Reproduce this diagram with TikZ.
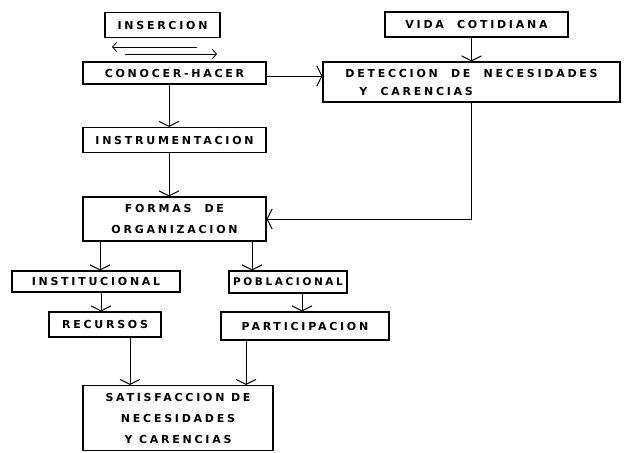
\documentclass[tikz,border=0pt]{standalone}
\usepackage{fontspec}
\usepackage{tikz}
\usetikzlibrary{arrows.meta,positioning,calc}
\newfontfamily\cajafont{DejaVu Sans}[LetterSpace=25]

\begin{document}
\begin{tikzpicture}[x=1pt,y=-1pt,
  caja/.style={draw,line width=1.1pt,inner sep=0pt,align=center,font=\cajafont\bfseries\fontsize{11}{21}\selectfont},
  flecha/.style={line width=0.8pt,-{Straight Barb[length=5pt,width=20pt,line width=1pt]}},
  flechita/.style={line width=0.8pt,-{Straight Barb[length=4pt,width=9pt]}}]
\useasboundingbox (0,0) rectangle (631,452);

% Top row
\node[caja,minimum width=115,minimum height=25] (insercion) at (162.5,25) {INSERCION};
\node[caja,minimum width=183,minimum height=22] (conocer) at (174.5,73) {CONOCER-HACER};
\node[caja,minimum width=183,minimum height=25] (vida) at (476.5,24.5) {VIDA\ \ COTIDIANA};
\node[caja,minimum width=297,minimum height=40,align=left,font=\cajafont\bfseries\fontsize{11}{18}\selectfont] (deteccion) at (471.5,82)
  {DETECCION\ \ DE\ \ NECESIDADES\\\hspace*{14pt}Y\ \ CARENCIAS};

% Middle column
\node[caja,minimum width=183,minimum height=25] (instr) at (174.5,140) {INSTRUMENTACION};
\node[caja,minimum width=183,minimum height=44] (formas) at (174.5,219) {FORMAS\ \ DE\\ORGANIZACION};

% Two branches
\node[caja,minimum width=168,minimum height=21] (instit) at (96,281.5) {INSTITUCIONAL};
\node[caja,minimum width=118,minimum height=22,font=\cajafont\bfseries\fontsize{10.5}{19}\selectfont] (pobl) at (288,282) {POBLACIONAL};
\node[caja,minimum width=112,minimum height=25] (recursos) at (105,324.5) {RECURSOS};
\node[caja,minimum width=168,minimum height=28] (partic) at (305,326) {PARTICIPACION};
\node[caja,minimum width=190,minimum height=65] (satis) at (178,418)
  {SATISFACCION DE\\NECESIDADES\\Y CARENCIAS};

% Back and forth between insercion and conocer
\coordinate (ida1) at (197,47);
\coordinate (ida2) at (112,47);
\coordinate (vuelta1) at (125,54);
\coordinate (vuelta2) at (217,54);
\draw[flechita] (ida1) -- (ida2);
\draw[flechita] (vuelta1) -- (vuelta2);

% Connectors
\draw[flecha] (conocer.east |- 0,76) -- (deteccion.west |- 0,76);
\draw[flecha] (vida.south -| deteccion.north) -- (deteccion.north);
\draw[flecha] (deteccion.south) |- (formas.east);
\draw[flecha] ([xshift=-5.5pt]conocer.south) -- ([xshift=-5.5pt]instr.north);
\draw[flecha] ([xshift=-5.5pt]instr.south) -- ([xshift=-5.5pt]formas.north);
\draw[flecha] ([xshift=4pt]instit.north |- formas.south) -- ([xshift=4pt]instit.north);
\draw[flecha] ([xshift=-36pt]pobl.north |- formas.south) -- ([xshift=-36pt]pobl.north);
\draw[flecha] ([xshift=5pt]instit.south) -- ([xshift=5pt]instit.south |- recursos.north);
\draw[flecha] ([xshift=14pt]pobl.south) -- ([xshift=14pt]pobl.south |- partic.north);
\draw[flecha] ([xshift=25pt]recursos.south) -- ([xshift=25pt]recursos.south |- satis.north);
\draw[flecha] ([xshift=-59pt]partic.south) -- ([xshift=-59pt]partic.south |- satis.north);
\end{tikzpicture}
\end{document}
